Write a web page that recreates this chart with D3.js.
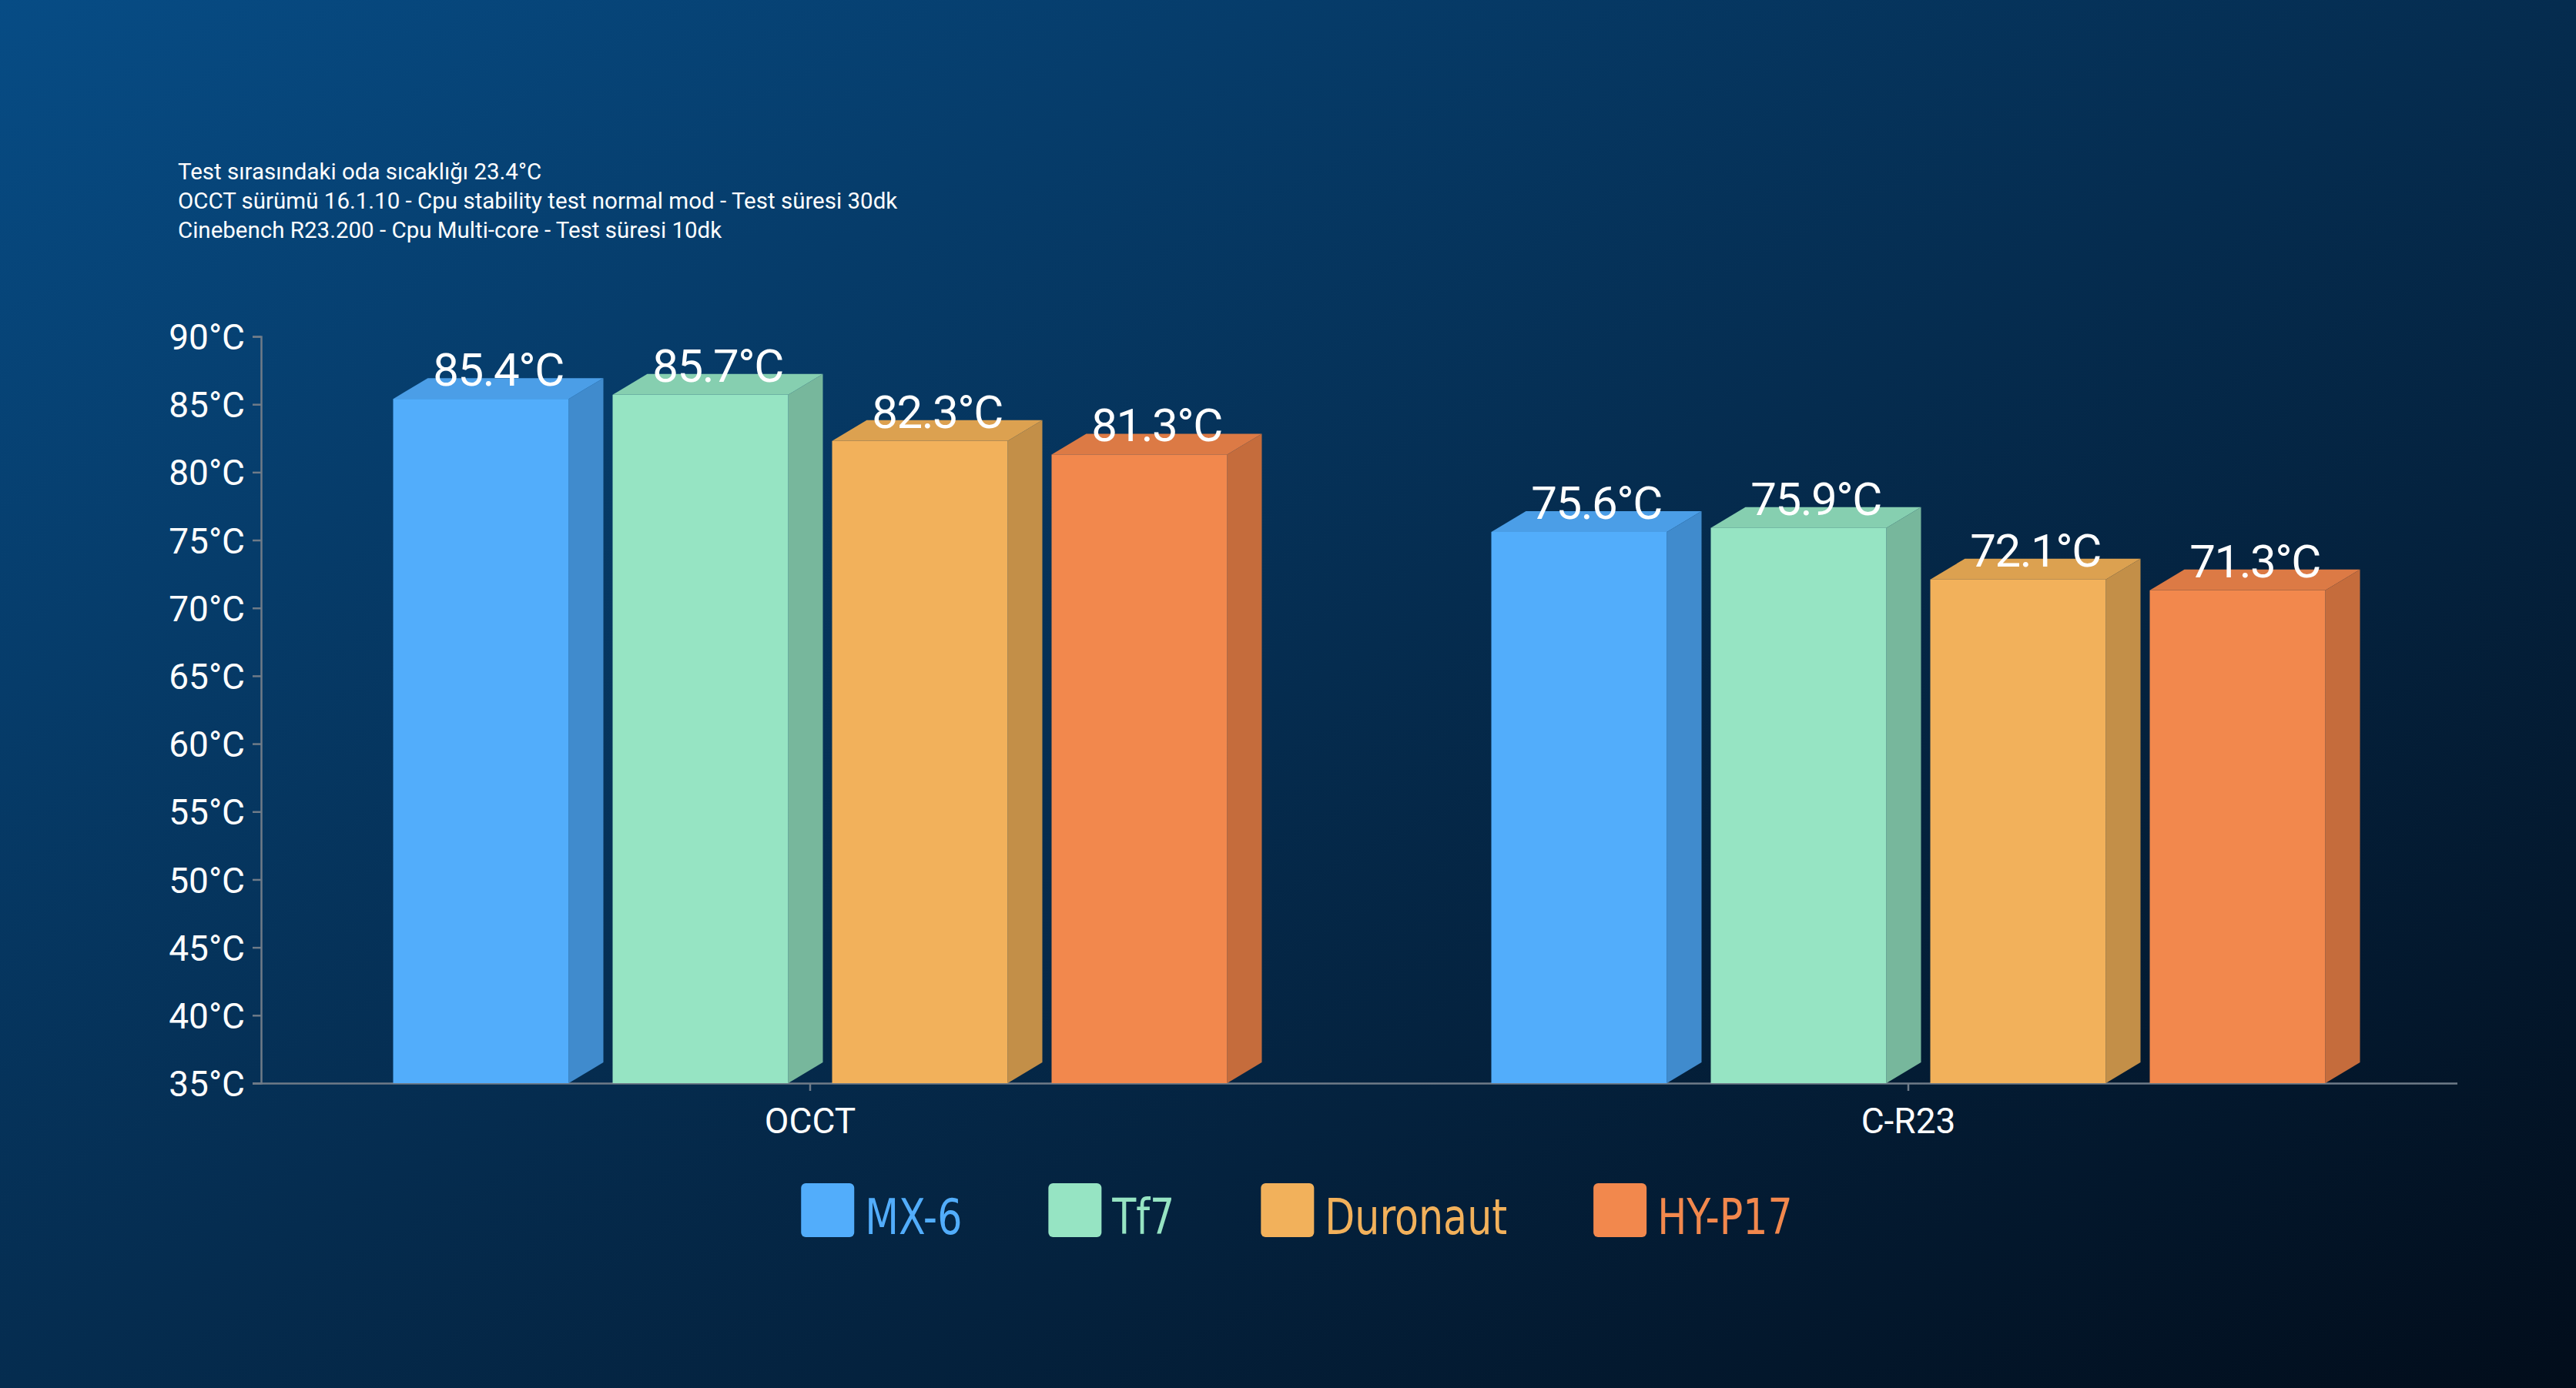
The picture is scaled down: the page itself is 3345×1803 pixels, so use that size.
<!DOCTYPE html>
<html>
<head>
<meta charset="utf-8">
<script src="https://cdn.jsdelivr.net/npm/d3@7"></script>
<style>
  html, body { margin: 0; padding: 0; background: #031a33; }
  svg { display: block; }
</style>
</head>
<body>
<svg id="chart"></svg>
<script>
// Data
const categories = ['OCCT', 'C-R23'];
const series = ['MX-6', 'Tf7', 'Duronaut', 'HY-P17'];
const mx6 = [85.4, 75.6];
const tf7 = [85.7, 75.9];
const duronaut = [82.3, 72.1];
const hyp17 = [81.3, 71.3];
const yTicks = [35, 40, 45, 50, 55, 60, 65, 70, 75, 80, 85, 90];
const notes = [
  'Test sırasındaki oda sıcaklığı 23.4°C',
  'OCCT sürümü 16.1.10 - Cpu stability test normal mod - Test süresi 30dk',
  'Cinebench R23.200 - Cpu Multi-core - Test süresi 10dk'
];

const values = [mx6, tf7, duronaut, hyp17];
const colors = {
  front: ['#52adfb', '#96e4c3', '#f2b15b', '#f2884d'],
  side:  ['#408bcd', '#77b79c', '#c38f48', '#c56c3c'],
  top:   ['#4b9ee7', '#86cfb0', '#dca150', '#dc7a45']
};

// Layout
const W = 3345, H = 1803;
const margin = { top: 437, right: 154, bottom: 396, left: 339 };
const width = W - margin.left - margin.right;
const height = H - margin.top - margin.bottom;
const depthX = 45, depthY = 27;
const font = 'Roboto, "Noto Sans", sans-serif';

const svg = d3.select('#chart')
  .attr('width', W)
  .attr('height', H);

// Background gradient
const grad = svg.append('defs').append('linearGradient')
  .attr('id', 'bg')
  .attr('x1', 0).attr('y1', 0).attr('x2', 1).attr('y2', 1);
grad.append('stop').attr('offset', '0%').attr('stop-color', '#074c85');
grad.append('stop').attr('offset', '50%').attr('stop-color', '#052c4f');
grad.append('stop').attr('offset', '100%').attr('stop-color', '#020d1b');
svg.append('rect').attr('width', W).attr('height', H).attr('fill', 'url(#bg)');

// Notes
svg.append('g')
  .selectAll('text')
  .data(notes)
  .enter().append('text')
  .attr('x', 231)
  .attr('y', (d, i) => 233 + i * 38)
  .attr('fill', '#ffffff')
  .attr('font-family', font)
  .attr('font-size', 29.5)
  .text(d => d);

const g = svg.append('g')
  .attr('transform', `translate(${margin.left},${margin.top})`);

// Scales
const x0 = d3.scaleBand().domain(categories).range([0, width]).padding(0);
const x1 = d3.scaleBand().domain(series).range([-570, 570]).padding(0);
const y = d3.scaleLinear().domain([35, 90]).range([height, 0]);
const barW = x1.bandwidth() * 0.8;

// Axes
const yAxis = g.append('g')
  .call(d3.axisLeft(y).tickValues(yTicks).tickFormat(d => d + '°C').tickSize(11).tickPadding(10));
const xAxis = g.append('g')
  .attr('transform', `translate(0,${height})`)
  .call(d3.axisBottom(x0).tickSize(10).tickPadding(22).tickSizeOuter(0));
[yAxis, xAxis].forEach(a => {
  a.select('.domain').attr('stroke', '#6f7b88').attr('stroke-width', 2.5);
  a.selectAll('.tick line').attr('stroke', '#6f7b88').attr('stroke-width', 2.5);
  a.selectAll('.tick text')
    .attr('fill', '#ffffff')
    .attr('font-family', font)
    .attr('font-size', 46);
});
yAxis.selectAll('.tick text').attr('dy', '0.36em');
xAxis.selectAll('.tick text').attr('dy', '0.72em');
xAxis.select('.domain').attr('d', `M-11,0.5H${width}`);

// Bars
const bars = [];
categories.forEach((c, ci) => {
  series.forEach((s, si) => {
    bars.push({ cat: c, ser: s, si: si, v: values[si][ci] });
  });
});

const barG = g.selectAll('.bar')
  .data(bars)
  .enter().append('g')
  .attr('class', 'bar');

const bx = d => x0(d.cat) + x0.bandwidth() / 2 + x1(d.ser) + (x1.bandwidth() - barW) / 2;

barG.append('path')
  .attr('fill', d => colors.side[d.si])
  .attr('d', d => {
    const xr = bx(d) + barW, yt = y(d.v), yb = y(35);
    return `M${xr},${yt}L${xr + depthX},${yt - depthY}L${xr + depthX},${yb - depthY}L${xr},${yb}Z`;
  });

barG.append('path')
  .attr('fill', d => colors.top[d.si])
  .attr('d', d => {
    const xl = bx(d), yt = y(d.v);
    return `M${xl},${yt}L${xl + depthX},${yt - depthY}L${xl + barW + depthX},${yt - depthY}L${xl + barW},${yt}Z`;
  });

barG.append('rect')
  .attr('fill', d => colors.front[d.si])
  .attr('x', d => bx(d))
  .attr('y', d => y(d.v))
  .attr('width', barW)
  .attr('height', d => y(35) - y(d.v));

barG.append('text')
  .attr('x', d => bx(d) + (barW + depthX) / 2)
  .attr('y', d => y(d.v) - 17)
  .attr('text-anchor', 'middle')
  .attr('fill', '#ffffff')
  .attr('font-family', font)
  .attr('font-size', 60)
  .attr('letter-spacing', -1.5)
  .text(d => d.v.toFixed(1) + '°C');

// Legend
const legend = svg.append('g');
const items = legend.selectAll('g')
  .data(series)
  .enter().append('g');
items.append('rect')
  .attr('width', 69).attr('height', 70)
  .attr('y', 1537)
  .attr('rx', 6)
  .attr('fill', (d, i) => colors.front[i]);
const textScale = 0.88;
items.append('text')
  .attr('transform', `translate(83,1603) scale(${textScale},1)`)
  .attr('fill', (d, i) => colors.front[i])
  .attr('font-family', '"DejaVu Sans Condensed", "DejaVu Sans", sans-serif')
  .attr('font-stretch', 'condensed')
  .attr('font-size', 64)
  .text(d => d);

let lx = 0;
const pos = [];
items.each(function () {
  const w = 83 + textScale * d3.select(this).select('text').node().getComputedTextLength();
  pos.push(lx);
  lx += w + 112;
});
const total = lx - 112;
const start = 1684 - total / 2;
items.attr('transform', (d, i) => `translate(${start + pos[i]},0)`);
</script>
</body>
</html>
